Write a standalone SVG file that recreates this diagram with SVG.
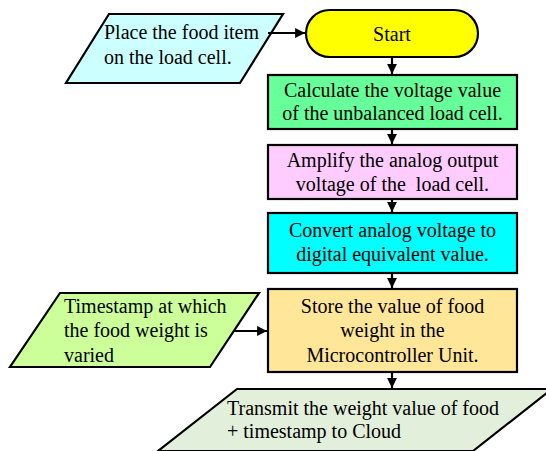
<svg xmlns="http://www.w3.org/2000/svg" width="546" height="451" viewBox="0 0 546 451">
  <defs>
    <marker id="arrow" viewBox="0 0 10 10" refX="10" refY="5" markerWidth="4.5" markerHeight="4.5" orient="auto" markerUnits="strokeWidth">
      <path d="M0,0 L10,5 L0,10 z" fill="#000"/>
    </marker>
  </defs>
  <style>
    .shape { stroke: #000; stroke-width: 2.2; }
    .conn { stroke: #000; stroke-width: 2.2; fill: none; marker-end: url(#arrow); }
    .c { text-anchor: middle; }
  </style>

  <g font-family="'Liberation Serif', 'Times New Roman', serif" font-size="20" fill="#000">
    <g id="place-food">
      <polygon class="shape" points="109,14 283,14 240,83 66,83" fill="#CCFFFF"/>
      <text x="104" y="39">Place the food item</text>
      <text x="104" y="64">on the load cell.</text>
    </g>

    <g id="start">
      <rect class="shape" x="306" y="10" width="172" height="47" rx="23.5" ry="23.5" fill="#FFFF00"/>
      <text class="c" x="392" y="41">Start</text>
    </g>

    <g id="calculate">
      <rect class="shape" x="268" y="75" width="249" height="54" fill="#66FF99"/>
      <text class="c" x="392.5" y="97">Calculate the voltage value</text>
      <text class="c" x="392.5" y="120">of the unbalanced load cell.</text>
    </g>

    <g id="amplify">
      <rect class="shape" x="268" y="145" width="249" height="54" fill="#FFCCFF"/>
      <text class="c" x="392.5" y="167">Amplify the analog output</text>
      <text class="c" x="392.5" y="191" xml:space="preserve">voltage of the  load cell.</text>
    </g>

    <g id="convert">
      <rect class="shape" x="268" y="213" width="249" height="60" fill="#00FFFF"/>
      <text class="c" x="392.5" y="237">Convert analog voltage to</text>
      <text class="c" x="392.5" y="261">digital equivalent value.</text>
    </g>

    <g id="timestamp">
      <polygon class="shape" points="60,293 259,293 210,367 10,367" fill="#CCFF99"/>
      <text x="64" y="313">Timestamp at which</text>
      <text x="64" y="337">the food weight is</text>
      <text x="64" y="362">varied</text>
    </g>

    <g id="store">
      <rect class="shape" x="268" y="289" width="249" height="83" fill="#FFE699"/>
      <text class="c" x="392.5" y="313">Store the value of food</text>
      <text class="c" x="392.5" y="337">weight in the</text>
      <text class="c" x="392.5" y="362">Microcontroller Unit.</text>
    </g>

    <g id="transmit">
      <polygon class="shape" points="237,389 552,389 473,451 158,451" fill="#E2EFDA"/>
      <text x="227" y="415">Transmit the weight value of food</text>
      <text x="227" y="438">+ timestamp to Cloud</text>
    </g>
  </g>

  <g id="connectors">
    <line class="conn" x1="268" y1="33" x2="305" y2="33"/>
    <line class="conn" x1="392" y1="57" x2="392" y2="74"/>
    <line class="conn" x1="392" y1="129" x2="392" y2="144"/>
    <line class="conn" x1="392" y1="199" x2="392" y2="212"/>
    <line class="conn" x1="392" y1="273" x2="392" y2="288"/>
    <line class="conn" x1="233" y1="331" x2="267" y2="331"/>
    <line class="conn" x1="392" y1="372" x2="392" y2="388"/>
  </g>
</svg>
